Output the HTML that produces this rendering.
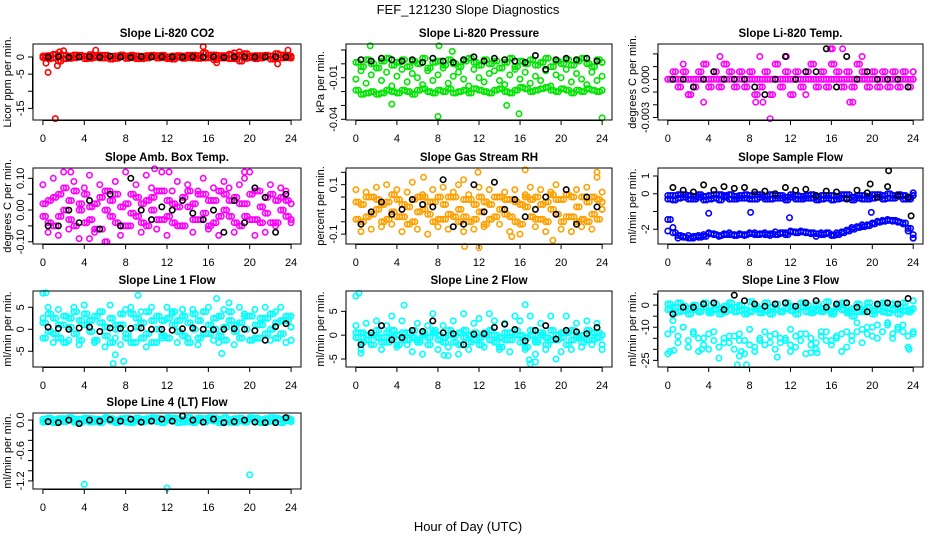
<!DOCTYPE html>
<html><head><meta charset="utf-8"><title>FEF_121230 Slope Diagnostics</title>
<style>
html,body{margin:0;padding:0;background:#fff;}
svg{display:block;font-family:"Liberation Sans",Arial,sans-serif;}
</style></head>
<body>
<svg id="chart" width="936" height="540" viewBox="0 0 936 540">
<rect x="0" y="0" width="936" height="540" fill="#fff"/>
<text x="468" y="14" font-size="13" text-anchor="middle">FEF_121230  Slope Diagnostics</text>
<text x="468" y="531" font-size="13" text-anchor="middle">Hour of Day (UTC)</text>
</svg>
<script>
const xTicks = [0,4,8,12,16,20,24];
const H2 = [0,0.5,1,1.5,2,2.5,3,3.5,4,4.5,5,5.5,6,6.5,7,7.5,8,8.5,9,9.5,10,10.5,11,11.5,12,12.5,13,13.5,14,14.5,15,15.5,16,16.5,17,17.5,18,18.5,19,19.5,20,20.5,21,21.5,22,22.5,23,23.5,24];
const HQ = [0.25,0.75,1.25,1.75,2.25,2.75,3.25,3.75,4.25,4.75,5.25,5.75,6.25,6.75,7.25,7.75,8.25,8.75,9.25,9.75,10.25,10.75,11.25,11.75,12.25,12.75,13.25,13.75,14.25,14.75,15.25,15.75,16.25,16.75,17.25,17.75,18.25,18.75,19.25,19.75,20.25,20.75,21.25,21.75,22.25,22.75,23.25,23.75,24];
const HB = [0.5,1.5,2.5,3.5,4.5,5.5,6.5,7.5,8.5,9.5,10.5,11.5,12.5,13.5,14.5,15.5,16.5,17.5,18.5,19.5,20.5,21.5,22.5,23.5];

// P1 CO2
const co2A = [0.3,-0.5,0.8,-1.2,0.5,-0.4,0.6,0.2,-0.5,0.7,0.4,-0.3,0.5,-0.6,0.3,0.2,-0.4,0.5,0.3,-0.5,0.4,0.2,-0.3,0.5,0.1,-0.6,0.4,0.3,-0.2,0.5,-0.4,1.2,0.6,-0.8,-0.3,0.4,0.8,-0.5,-1.2,1.0,0.3,-0.5,0.4,0.2,-0.6,1.0,-0.3,0.5,0.2];
const co2B = [-0.2,0.4,-0.3,0.6,-0.5,0.3,-0.2,0.5,0.2,-0.4,-0.1,0.5,-0.3,0.2,-0.4,0.6,0.3,-0.2,-0.5,0.2,-0.3,0.5,0.4,-0.2,-0.5,0.3,-0.1,-0.4,0.5,-0.3,0.4,-0.3,-0.2,0.6,0.4,-0.3,-0.5,0.3,0.6,-0.4,-0.2,0.4,-0.3,0.5,0.3,-0.4,0.6,-0.2,-0.3];
const co2OutX = [0.3,0.5,1.2,1.4,1.6,2.0,5.1,15.5,16.8,18.5,19.0,22.7,23.7];
const co2OutY = [-1.8,-4.5,-18.0,-2.5,1.5,1.8,2.0,3.0,-1.7,1.2,1.5,-2.0,2.0];
const co2Black = [0,0.1,-0.1,0,0.1,0,0.2,0,-0.1,0.1,0,0.1,0,0,0.1,0,0.1,-0.1,0,0.1,0,0,0.1,0];

// P2 Pressure
const presA = [0.001,-0.002,0.003,0.0,-0.003,0.002,0.004,-0.001,0.001,0.003,-0.002,0.002,0.0,0.004,-0.003,0.001,0.002,-0.001,0.003,0.0,-0.002,0.002,0.004,0.001,-0.001,0.003,0.0,0.002,-0.003,0.001,0.004,-0.002,0.002,0.0,0.003,-0.001,0.001,0.004,-0.002,0.002,0.0,0.003,-0.001,0.002,0.004,0.0,-0.002,0.003,0.001];
const presB = [-0.019,-0.022,-0.021,-0.020,-0.022,-0.021,-0.019,-0.020,-0.021,-0.019,-0.020,-0.022,-0.019,-0.018,-0.020,-0.021,-0.019,-0.020,-0.018,-0.021,-0.020,-0.019,-0.021,-0.018,-0.019,-0.020,-0.021,-0.019,-0.018,-0.020,-0.021,-0.019,-0.017,-0.018,-0.020,-0.019,-0.018,-0.017,-0.019,-0.020,-0.018,-0.019,-0.021,-0.019,-0.020,-0.018,-0.019,-0.020,-0.019];
const presC = [-0.011,-0.005,-0.014,-0.008,-0.003,-0.012,-0.006,-0.016,-0.009,-0.004,-0.013,-0.007,-0.010,-0.015,-0.005,-0.012,-0.008,-0.003,-0.014,-0.009,-0.006,-0.011,-0.016,-0.004,-0.010,-0.013,-0.007,-0.005,-0.012,-0.015,-0.008,-0.004,-0.011,-0.006,-0.014,-0.009,-0.012,-0.005,-0.016,-0.008,-0.010,-0.004,-0.013,-0.007,-0.011,-0.015,-0.006,-0.012,-0.009];
const presOutX = [1.4,8.1,9.4,3.5,8.0,14.7,15.9,24.0];
const presOutY = [0.013,0.013,0.009,-0.029,-0.038,-0.030,-0.036,-0.039];
const presBlack = [0.003,0.002,0.004,0.003,0.002,0.003,0.001,0.004,0.002,0.001,0.003,0.005,0.002,0.004,0.003,0.002,0.001,0.006,-0.004,0.003,0.004,0.003,0.004,0.002];

// P3 Li-820 Temp
const tempA = [0,0,0,0,0,0,0,0,0,0,0,0,0,0,0,0,0,0,0,0,0,0,0,0,0,0,0,0,0,0,0,0,0,0,0,0,0,0,0,0,0,0,0,0,0,0,0,0,0];
const tempB = [0,0.0006,-0.0006,0.0006,-0.0012,-0.0006,0.0006,0.0012,-0.0006,0.0006,-0.0006,0.0012,0.0006,-0.0006,0.0006,-0.0006,0.0006,-0.0012,-0.0006,0.0006,-0.0012,0.0012,-0.0006,0.0006,-0.0012,0.0006,-0.0006,0.0006,0.0012,-0.0006,0.0006,-0.0006,0.0012,0.0006,-0.0006,0.0006,-0.0006,0.0012,0.0006,-0.0006,0.0006,-0.0006,0.0006,-0.0006,0.0006,-0.0006,0.0006,-0.0006,0.0006];
const tempOutX = [3.5,8.6,9.3,10.0,15.9,16.1,17.1,19.0,17.8,18.1,5.1,11.6,2.0,9.0,1.5,13.5];
const tempOutY = [-0.0018,-0.0018,-0.0018,-0.0031,0.0024,0.0024,0.0024,0.0018,-0.0018,-0.0018,0.0018,0.0018,-0.0012,0.0018,0.0012,-0.0012];
const tempBlack = [0,0,-0.0006,0,0.0006,0,0,0,-0.0006,-0.0012,0,0.0018,0,0.0006,0.0006,0.0024,-0.0006,0.0018,0,0.0006,0,0,0,-0.0006];

// P4 Amb box temp
const ambA = [-0.02,0.03,-0.05,0.05,0.0,-0.03,0.06,0.02,-0.04,0.01,-0.06,0.04,0.0,-0.02,0.05,-0.05,0.02,-0.01,0.04,-0.04,0.03,0.0,-0.03,0.06,-0.02,0.02,-0.05,0.04,0.01,-0.03,0.05,-0.01,0.03,-0.04,0.06,0.0,-0.02,0.04,-0.05,0.02,0.05,-0.03,0.01,0.04,-0.04,0.03,0.0,-0.02,0.02];
const ambB = [0.02,-0.04,0.04,-0.02,0.07,0.03,-0.05,0.0,0.05,-0.03,0.02,-0.06,0.06,0.03,-0.04,0.01,-0.05,0.05,-0.02,0.02,-0.05,0.04,0.06,-0.03,0.03,-0.04,0.01,-0.05,0.06,0.02,-0.03,0.05,-0.05,0.03,-0.02,0.05,0.03,-0.04,0.02,-0.02,-0.03,0.06,-0.04,-0.01,0.05,-0.04,0.04,0.03,-0.03];
const ambC = [0.08,-0.07,0.10,-0.08,0.12,-0.06,0.09,-0.09,0.07,0.11,-0.07,0.08,-0.10,0.06,0.09,-0.08,0.12,-0.05,0.08,-0.07,0.11,0.07,-0.06,0.12,-0.08,0.06,0.09,-0.05,0.08,-0.07,0.06,0.10,-0.06,0.07,-0.08,0.09,0.07,-0.07,0.08,0.10,0.12,-0.08,0.06,-0.07,0.08,-0.05,0.07,0.06,-0.04];
const ambOutX = [6.2,4.5,2.7,10.8,12.2,19.5];
const ambOutY = [-0.10,-0.09,0.12,0.13,0.12,0.12];
const ambBlack = [-0.05,-0.05,0.0,-0.04,0.03,-0.06,0.05,-0.05,0.10,0.0,-0.03,0.01,0.0,0.03,-0.01,-0.03,0.0,-0.07,0.03,-0.04,0.07,0.04,-0.07,0.05];

// P5 Gas stream RH
const rhA = [-0.04,0.02,-0.03,0.05,0.0,-0.05,0.03,-0.01,0.04,-0.03,0.01,-0.05,0.05,0.0,-0.02,0.03,-0.04,0.02,0.05,-0.03,0.0,0.04,-0.05,0.02,-0.01,0.03,-0.04,0.05,0.0,-0.02,0.04,-0.05,0.02,0.01,-0.03,0.05,-0.04,0.03,0.0,-0.02,0.04,-0.03,0.05,0.01,-0.04,0.03,-0.02,0.04,0.0];
const rhB = [0.03,-0.05,0.05,-0.02,0.04,0.02,-0.04,0.06,-0.03,0.02,-0.06,0.04,-0.01,0.05,0.03,-0.05,0.05,-0.04,-0.02,0.05,-0.05,-0.03,0.04,-0.04,0.05,-0.06,0.02,-0.03,0.05,0.04,-0.03,0.03,-0.06,0.05,0.04,-0.04,0.02,-0.05,0.06,0.04,-0.05,0.06,-0.03,-0.05,0.05,-0.05,0.05,-0.04,0.03];
const rhC = [0.08,-0.09,0.07,-0.08,0.09,-0.07,0.10,-0.06,0.08,-0.09,0.07,0.11,-0.08,0.06,-0.10,0.08,-0.07,0.09,-0.08,0.07,0.10,-0.09,0.06,-0.08,0.09,-0.07,0.08,0.11,-0.06,0.07,-0.09,0.08,-0.10,0.06,0.09,-0.07,0.08,-0.09,0.07,0.10,-0.08,0.06,-0.09,0.08,-0.07,0.09,-0.08,0.13,0.07];
const rhOutX = [6.6,10.5,10.6,12.0,11.9,16.5,19.2,23.5,15.2];
const rhOutY = [0.13,0.12,-0.15,-0.155,0.15,0.16,-0.125,0.15,-0.11];
const rhBlack = [-0.06,-0.01,0.03,-0.02,0.0,0.04,0.02,0.01,0.12,-0.07,-0.06,0.10,-0.01,0.11,0.0,0.04,-0.03,0.0,0.05,-0.02,0.08,-0.06,0.05,0.01];

// P6 Sample flow
const sfA = [-0.3,-0.1,-0.25,-0.05,-0.3,-0.15,-0.2,-0.35,-0.1,-0.25,-0.05,-0.2,-0.3,-0.15,-0.1,-0.25,-0.3,-0.05,-0.2,-0.15,-0.3,-0.1,-0.25,-0.2,-0.05,-0.3,-0.15,-0.1,-0.25,-0.2,-0.3,-0.1,-0.35,-0.15,-0.05,-0.25,-0.2,-0.1,-0.3,-0.15,-0.05,-0.2,-0.1,-0.25,-0.1,-0.15,-0.3,-0.2,-0.1];
const sfB = [-0.1,-0.35,-0.05,-0.2,-0.1,-0.3,-0.05,-0.15,-0.3,-0.05,-0.35,-0.1,-0.05,-0.3,-0.25,-0.05,-0.1,-0.3,-0.05,-0.3,-0.05,-0.25,-0.1,-0.35,-0.2,-0.1,-0.3,-0.25,-0.05,-0.35,-0.1,-0.25,-0.1,-0.3,-0.25,-0.05,-0.35,-0.25,-0.1,-0.3,-0.25,-0.05,-0.3,0.0,-0.25,-0.05,-0.1,-0.3,0.05];
const sfC = [-1.45,-2.2,-2.35,-2.45,-2.5,-2.4,-2.45,-2.4,-2.25,-2.3,-2.35,-2.3,-2.3,-2.35,-2.3,-2.3,-2.25,-2.3,-2.25,-2.3,-2.25,-2.3,-2.2,-2.3,-2.15,-2.2,-2.15,-2.2,-2.2,-2.25,-2.3,-2.2,-2.35,-2.3,-2.2,-2.1,-2.0,-1.9,-1.85,-1.8,-1.7,-1.6,-1.55,-1.5,-1.5,-1.6,-1.65,-1.95,-2.5];
const sfD = [-2.1,-1.9,-2.5,-2.4,-2.35,-2.5,-2.35,-2.3,-2.2,-2.25,-2.4,-2.25,-2.2,-2.3,-2.25,-2.35,-2.2,-2.2,-2.3,-2.2,-2.35,-2.15,-2.25,-2.2,-2.1,-2.15,-2.1,-2.15,-2.25,-2.4,-2.2,-2.25,-2.3,-2.2,-2.15,-2.05,-1.9,-1.85,-1.75,-1.75,-1.65,-1.55,-1.5,-1.45,-1.55,-1.55,-1.7,-2.1,-2.3];
const sfOutX = [4.0,8.1,11.9,19.9];
const sfOutY = [-1.1,-1.05,-1.35,-1.05];
const sfBlack = [0.35,0.2,0.1,0.5,0.2,0.4,0.3,0.35,0.1,0.15,0.0,0.35,0.2,0.25,-0.1,0.15,0.1,-0.3,0.2,0.05,-0.2,0.4,-0.1,-0.2];
const sfBlackOutX = [21.6,23.8,19.8];
const sfBlackOutY = [1.3,-1.25,0.55];

// P7 Line 1
const l1A = [1.5,-0.5,2.5,-2,3,0.5,-1,2,1,-0.5,3,1.5,-1.5,2.5,0,1,-2,3.5,0.5,1.5,-1,2,0,-1.5,2.5,1,-0.5,3,1.5,0,2,-1,1,2.5,-1.5,0.5,2,-0.5,1.5,0,3,-2,1,2.5,0,1.5,-1,2,0.5];
const l1B = [-2,3.5,-1,1,-3,2.5,4,-2.5,3.5,2,-2.5,4,0.5,-3,1,3.5,-1,-3,2.5,-2,4,-3,3,2,-2,4,2,-1.5,-3,3.5,-2,4,-1,0,3,-2.5,4,1,-2,3,-2.5,1,2.5,-1,3.5,-2,2,3,-2.5];
const l1C = [2.5,5,-3,4.5,1,-2.5,5,-3.5,5.5,2,-3,4,-4,5.5,-2,-3.5,4.5,5,-3,4,-4,5,-3,-2,5,3.5,-3,4.5,-2,4.5,-3.5,4,5,-2.5,-3,4.5,6,-3.5,5,3.5,-2.5,4.5,-2,5,-2.5,4,5,-3,3];
const l1OutX = [0.0,0.3,6.8,7.0,7.8,9.2,16.8,17.3];
const l1OutY = [8.2,8.3,-7.8,-5.8,-7.3,7.7,7.0,-5.5];
const l1Black = [0.5,0.2,0.0,0.3,0.5,-0.5,0.3,0.2,0.2,0.3,0.0,0.0,-0.2,0.1,0.3,0.0,-0.1,0.0,0.1,0.0,-0.3,-2.5,0.6,1.3];

// P8 Line 2
const l2A = [-0.5,0.5,-1,0,-0.5,-1.5,0.5,-0.5,0,-1,0.5,-0.5,-1,0,-0.5,0.5,-1,-0.5,0,-1.5,0.5,-0.5,0,-1,-0.5,0.5,-1,0,-0.5,-1,0.5,0,-1.5,-0.5,0,-1,0.5,-0.5,-1,0,-0.5,0.5,-1,-0.5,0,-1,0.5,-0.5,0];
const l2B = [0.5,-1.5,0,-2,1,-0.5,-1.5,1,-2,0.5,-1,1,-1.5,0.5,-2,1,0,-1.5,1,0,-2,1,-1.5,0.5,-2,0,1,-1.5,-2.5,0.5,-1,1,0,-2.5,1,-1.5,0,-2,1,-1,0.5,-2,1,0,-1.5,1,-1,0.5,-2];
const l2C = [2,-3,2.5,-2,3,-3,2,4,-2.5,3,-2,-3.5,2.5,-4,2,4.5,-3,2,-2.5,3,-4,4.5,-3,2.5,3.5,-2.5,4.5,3,-3,2.5,-3.5,4,3,-3,4,-4,2.5,-3,4,-5,-3.5,4,-3,2.5,-2.5,3,-2,2.5,-3];
const l2OutX = [0.0,0.3,0.5,4.7,8.6,9.0,16.5,16.9,17.0,17.5];
const l2OutY = [8.2,8.8,-3.8,6.3,-4.2,-4.3,6.4,-5.2,-6.0,-5.6];
const l2Black = [-2,0.5,2,-1,-0.5,1,0.8,3,0.5,0.3,-2,0.2,0.3,1.6,2.3,1.2,-1.2,1.0,2.0,-0.8,1.0,0.7,0.3,1.6];

// P9 Line 3
const l3A = [-2,-1,-3,-2.5,-1.5,-2,-3,-1,-2.5,-2,-1.5,-3,-2,-1,-2.5,-2,-3,-1.5,-2,-2.5,-1,-2,-3,-1.5,-2.5,-2,-1,-3,-2,-2.5,-1.5,-2,-3,-1,-2,-2.5,-1.5,-3,-2,-1,-2.5,-2,-3,-1.5,-2,-1,-2.5,-2,-1.5];
const l3B = [0.5,-3.5,1,-0.5,-4,0,-3,1,-3.5,0.5,-4,-0.5,1,-3,0,-4,1.5,-0.5,-3.5,1,-4,0.5,-3,1,-0.5,-4,1,0,-3.5,0.5,-3,1.5,-4,0,1,-3.5,-5,0.5,-3,1,-4,0,1,-3.5,0.5,-4,1,-3,2];
const l3C = [-13,-11,-14,-10,-16,-12,-15,-18,-13,-16,-19,-15,-17,-14,-13,-16,-18,-19,-15,-12,-17,-13,-15,-16,-18,-14,-16,-13,-15,-17,-14,-12,-16,-15,-13,-19,-14,-12,-11,-13,-10,-15,-12,-9,-13,-11,-9,-14,-12];
const l3D = [-22,-7,-17,-10,-19,-13,-21,-15,-20,-12,-24,-17,-14,-20,-16,-22,-11,-21,-16,-18,-14,-20,-17,-15,-11,-19,-13,-22,-18,-20,-12,-16,-18,-14,-21,-12,-16,-8,-17,-10,-14,-9,-12,-8,-15,-10,-12,-19,-13];
const l3OutX = [0.2,0.6,3.3,6.8,7.0,7.7,7.2,10.7,12.0,14.0,14.6,23.6];
const l3OutY = [-21,-20.5,-20,-27,-23,-27,-21,-23.5,-21,-21.5,-21.5,-20];
const l3Black = [-4,-1,-1,0.5,1,-2,4.5,2,0.5,-0.5,0.5,1,-0.5,1,2,-1,0.5,1,-1,-3,0.5,1,0.5,3];

// P10 Line 4
const l4A = [0.02,-0.03,0.01,-0.02,0.03,0,-0.04,0.02,-0.01,0.03,-0.03,0.01,0.02,-0.02,0,0.03,-0.04,0.01,-0.02,0.02,0.03,-0.01,-0.03,0.02,0,-0.02,0.03,0.01,-0.03,0.02,-0.01,0.03,0,-0.02,0.02,-0.04,0.01,0.03,-0.02,0,0.02,-0.03,0.01,0.03,-0.02,0,0.02,-0.01,0.01];
const l4B = [-0.04,0.04,-0.05,0.03,-0.03,0.05,0.02,-0.05,0.04,-0.04,0.02,-0.05,0.05,0.03,-0.05,-0.02,0.04,-0.05,0.04,-0.04,-0.02,0.05,0.04,-0.05,0.05,0.04,-0.05,-0.04,0.05,-0.05,0.04,-0.04,0.05,0.04,-0.05,0.05,-0.04,-0.05,0.04,-0.04,0.05,0.04,-0.05,-0.04,0.05,0.04,-0.05,0.04,-0.03];
const l4OutX = [4.0,12.0,20.0];
const l4OutY = [-1.27,-1.34,-1.08];
const l4Black = [-0.03,-0.05,0.0,-0.07,0.0,-0.02,0.01,-0.02,0.02,-0.04,-0.02,0.02,-0.02,0.08,0.0,-0.04,0.02,-0.05,-0.03,0.0,-0.04,-0.05,-0.05,0.05];

const colLeft = [33,346,658], colRight = [301,612,923];
const rowTop = [44,168,291,413], boxH = 76;

const panels = [
 {key:'co2',title:'Slope Li-820 CO2',ylab:'Licor ppm per min.',c:0,r:0,ymin:-18.4,ymax:3.8,ticks:[0,-5,-10,-15],labels:['0','-5','','-15'],color:'#ff0000',
  series:[[H2,co2A],[H2,co2B],[HQ,co2B],[HQ,co2A],[co2OutX,co2OutY]],black:[[HB,co2Black]]},
 {key:'pressure',title:'Slope Li-820 Pressure',ylab:'kPa per min.',c:1,r:0,ymin:-0.0405,ymax:0.0143,ticks:[0.01,0,-0.01,-0.02,-0.03,-0.04],labels:['','','-0.01','','','-0.04'],color:'#00e600',
  series:[[H2,presB],[HQ,presB],[H2,presC],[H2,presA],[HQ,presA],[presOutX,presOutY]],black:[[HB,presBlack]]},
 {key:'temp',title:'Slope Li-820 Temp.',ylab:'degrees C per min.',c:2,r:0,ymin:-0.0032,ymax:0.00278,ticks:[0.002,0.001,0,-0.001,-0.002,-0.003],labels:['','','0.000','','','-0.003'],color:'#ff00ff',
  series:[[H2,tempA],[HQ,tempA],[H2,tempB],[HQ,tempB],[tempOutX,tempOutY]],black:[[HB,tempBlack]]},
 {key:'ambtemp',title:'Slope Amb. Box Temp.',ylab:'degrees C per min.',c:0,r:1,ymin:-0.107,ymax:0.1326,ticks:[0.10,0.05,0,-0.05,-0.10],labels:['0.10','','0.00','','-0.10'],color:'#ff00ff',
  series:[[H2,ambC],[H2,ambA],[H2,ambB],[HQ,ambA],[HQ,ambB],[ambOutX,ambOutY]],black:[[HB,ambBlack]]},
 {key:'rh',title:'Slope Gas Stream RH',ylab:'percent per min.',c:1,r:1,ymin:-0.14,ymax:0.1675,ticks:[0.15,0.1,0.05,0,-0.05,-0.1],labels:['','0.1','','','','-0.1'],color:'#ffa000',
  series:[[H2,rhC],[H2,rhA],[H2,rhB],[HQ,rhA],[HQ,rhB],[rhOutX,rhOutY]],black:[[HB,rhBlack]]},
 {key:'sampleflow',title:'Slope Sample Flow',ylab:'ml/min per min.',c:2,r:1,ymin:-2.83,ymax:1.45,ticks:[1,0,-1,-2],labels:['1','0','','-2'],color:'#0000ff',
  series:[[H2,sfA],[H2,sfB],[HQ,sfA],[HQ,sfB],[H2,sfC],[H2,sfD],[HQ,sfC],[sfOutX,sfOutY]],black:[[HB,sfBlack],[sfBlackOutX,sfBlackOutY]]},
 {key:'line1',title:'Slope Line 1 Flow',ylab:'ml/min per min.',c:0,r:2,ymin:-8.57,ymax:8.7,ticks:[5,0,-5],labels:['5','0','-5'],color:'#00ffff',
  series:[[H2,l1C],[H2,l1B],[H2,l1A],[HQ,l1A],[HQ,l1B],[l1OutX,l1OutY]],black:[[HB,l1Black]]},
 {key:'line2',title:'Slope Line 2 Flow',ylab:'ml/min per min.',c:1,r:2,ymin:-6.68,ymax:9.27,ticks:[5,0,-5],labels:['5','0','-5'],color:'#00ffff',
  series:[[H2,l2C],[H2,l2B],[H2,l2A],[HQ,l2A],[HQ,l2B],[l2OutX,l2OutY]],black:[[HB,l2Black]]},
 {key:'line3',title:'Slope Line 3 Flow',ylab:'ml/min per min.',c:2,r:2,ymin:-28,ymax:6.4,ticks:[5,0,-5,-10,-15,-20,-25],labels:['','0','','-10','','','-25'],color:'#00ffff',
  series:[[H2,l3C],[H2,l3D],[H2,l3B],[H2,l3A],[HQ,l3A],[HQ,l3B],[l3OutX,l3OutY]],black:[[HB,l3Black]]},
 {key:'line4',title:'Slope Line 4 (LT) Flow',ylab:'ml/min per min.',c:0,r:3,ymin:-1.36,ymax:0.14,ticks:[0,-0.2,-0.4,-0.6,-0.8,-1.0,-1.2],labels:['0.0','','','-0.6','','','-1.2'],color:'#00ffff',
  series:[[H2,l4B],[H2,l4A],[HQ,l4A],[HQ,l4B],[l4OutX,l4OutY]],black:[[HB,l4Black]]}
];

const NS='http://www.w3.org/2000/svg';
const svg=document.getElementById('chart');
function mk(tag,attrs,parent){const e=document.createElementNS(NS,tag);for(const k in attrs)e.setAttribute(k,attrs[k]);(parent||svg).appendChild(e);return e;}

panels.forEach(p=>{
  const L=colLeft[p.c],R=colRight[p.c],T=rowTop[p.r],B=T+boxH;
  const g=mk('g',{});
  
  
  const xs=v=>L+(v+0.96)/25.92*(R-L);
  const ys=v=>B-(v-p.ymin)/(p.ymax-p.ymin)*(B-T);
  const t=mk('text',{x:(L+R)/2,y:T-7,'font-size':11.5,'font-weight':'bold','text-anchor':'middle'},g);
  t.textContent=p.title;
  
  
  const yl=mk('text',{x:0,y:0,'font-size':11,'text-anchor':'middle',transform:`translate(${L-22},${(T+B)/2}) rotate(-90)`},g);
  yl.textContent=p.ylab;
  
  
  const pts=mk('g',{fill:'none','stroke-width':1.6},g);
  
  
  p.series.forEach(s=>{const xa=s[0],ya=s[1];const n=Math.min(xa.length,ya.length);
    for(let i=0;i<n;i++){const c=mk('circle',{cx:xs(xa[i]).toFixed(1),cy:ys(ya[i]).toFixed(1),r:2.7,stroke:p.color},pts);
      
      }});
  p.black.forEach(s=>{const xa=s[0],ya=s[1];const n=Math.min(xa.length,ya.length);
    for(let i=0;i<n;i++){const c=mk('circle',{cx:xs(xa[i]).toFixed(1),cy:ys(ya[i]).toFixed(1),r:2.7,stroke:'#000'},pts);
      
      }});
  const bx=mk('rect',{x:L,y:T,width:R-L,height:boxH,fill:'none',stroke:'#000','stroke-width':1},g);
  
  
  const xa=mk('g',{},g);
  
  
  mk('line',{x1:xs(0),x2:xs(24),y1:B+0.5,y2:B+0.5,stroke:'#000'},xa);
  xTicks.forEach(v=>{mk('line',{x1:xs(v),x2:xs(v),y1:B,y2:B+5,stroke:'#000'},xa);
    const tx=mk('text',{x:xs(v),y:B+22,'font-size':11,'text-anchor':'middle'},xa);tx.textContent=v;});
  const ya=mk('g',{},g);
  
  
  const tv=p.ticks.map(ys);
  mk('line',{x1:L-0.5,x2:L-0.5,y1:Math.min(...tv),y2:Math.max(...tv),stroke:'#000'},ya);
  p.ticks.forEach((v,i)=>{const y=ys(v);mk('line',{x1:L-5,x2:L,y1:y,y2:y,stroke:'#000'},ya);
    if(p.labels[i]){const tx=mk('text',{x:0,y:0,'font-size':11,'text-anchor':'middle',transform:`translate(${L-9},${y}) rotate(-90)`},ya);tx.textContent=p.labels[i];}});
});
</script>
</body></html>
